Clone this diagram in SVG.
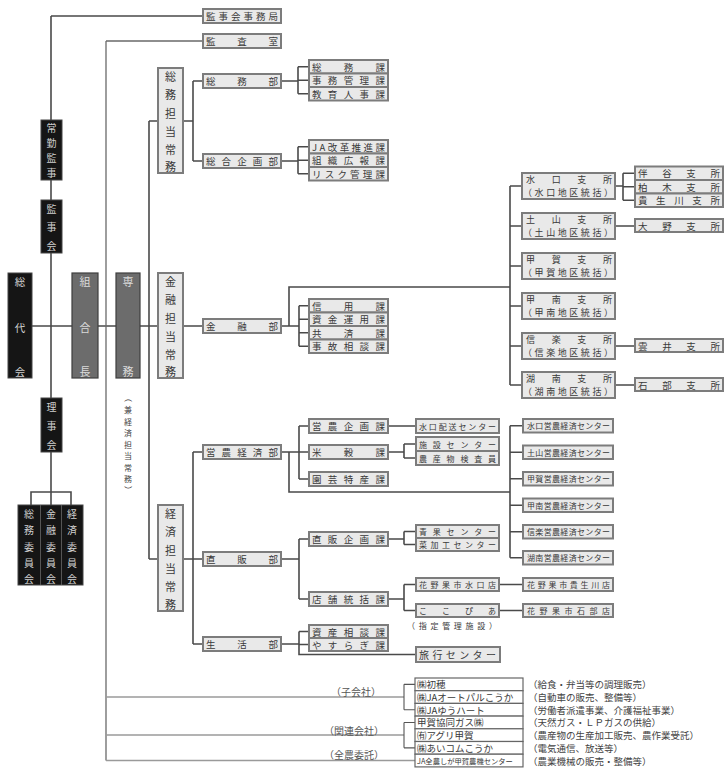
<svg xmlns="http://www.w3.org/2000/svg" width="726" height="769" viewBox="0 0 726 769">
<style>
text{font-family:"Noto Sans CJK JP","Noto Sans CJK SC",sans-serif;dominant-baseline:central;}
.b{fill:#e9e9e9;stroke:#7c7c7c;stroke-width:2;}
.k{fill:#151515;stroke:#444;stroke-width:1;}
.g{fill:#6c6c6c;stroke:#3e3e3e;stroke-width:1.2;}
.t{font-size:9.5px;fill:#3a3a3a;}
.t8{font-size:8px;fill:#3a3a3a;}
.t9{font-size:9px;fill:#3a3a3a;}
.t10{font-size:10px;fill:#3a3a3a;}
.v{font-size:11px;fill:#3a3a3a;text-anchor:middle;}
.vk{font-size:10.5px;fill:#cfcfcf;text-anchor:middle;}
.vs{font-size:10px;fill:#cfcfcf;text-anchor:middle;}
.vg{font-size:11px;fill:#dadada;text-anchor:middle;}
.vp{font-size:8px;fill:#444;text-anchor:middle;}
.lab{font-size:10px;fill:#555;text-anchor:end;}
.d{font-size:9.5px;fill:#444;}
.a{font-size:9.5px;fill:#3a3a3a;}
.ln{fill:none;stroke:#4a4a4a;stroke-width:1.6;}
.lm{fill:none;stroke:#6a6a6a;stroke-width:1.3;}
.ll{fill:none;stroke:#9a9a9a;stroke-width:1.3;}
.lb{fill:none;stroke:#555;stroke-width:1.1;}
.ar{fill:#fff;stroke:#666;stroke-width:1.2;}
</style>

<g id="connectors">
  <path class="ln" d="M51,16 H203 M51,16 V492 M31,505 V492 H71 V505 M51,492 V505"/>
  <path class="ln" d="M32,326 H72 M98,326 H116 M140,326 H158 M183,326 H203"/>
  <path class="lm" d="M106,41 H203 M106,41 V760.5"/>
  <path class="ln" d="M149,121 V559 M149,121 H158 M149,559 H158"/>
  <path class="ln" d="M183,121 H193 M193,81 V161 M193,81 H203 M193,161 H203"/>
  <path class="ln" d="M281,81 H298 M298,66.75 V93.75 M298,66.75 H309 M298,80.25 H309 M298,93.75 H309"/>
  <path class="ln" d="M281,161 H298 M298,146.75 V173.75 M298,146.75 H309 M298,160.25 H309 M298,173.75 H309"/>
  <path class="ln" d="M281,326 H299 M289,326 V287 H510 M299,305.75 V346.25 M299,305.75 H309 M299,319.25 H309 M299,332.75 H309 M299,346.25 H309"/>
  <path class="ln" d="M510,186 V385 M510,186 H522 M510,226 H522 M510,266 H522 M510,306 H522 M510,346 H522 M510,385 H522"/>
  <path class="ln" d="M615,186 H623 M623,173.25 V200.25 M623,173.25 H635 M623,186.75 H635 M623,200.25 H635"/>
  <path class="ln" d="M615,226 H635 M615,346 H635 M615,385 H635"/>
  <path class="ln" d="M183,559 H203 M193,452 V644 M193,452 H203 M193,644 H203"/>
  <path class="ln" d="M281,452 H299 M299,426 V479 M299,426 H309 M299,452 H309 M299,479 H309 M289,452 V492 H510"/>
  <path class="ln" d="M388,426 H416 M388,452 H404 M404,444 V458 M404,444 H416 M404,458 H416"/>
  <path class="ln" d="M510,425.75 V557.75 M510,425.75 H523 M510,452.25 H523 M510,478.75 H523 M510,505.25 H523 M510,531.75 H523 M510,557.75 H523"/>
  <path class="ln" d="M281,559 H299 M299,539 V599 M299,539 H309 M299,599 H309"/>
  <path class="ln" d="M388,539 H404 M404,531.5 V544.5 M404,531.5 H416 M404,544.5 H416"/>
  <path class="ln" d="M388,599 H404 M404,584.5 V610.5 M404,584.5 H416 M404,610.5 H416 M499,584.5 H523 M499,610.5 H523"/>
  <path class="ln" d="M281,644 H299 M299,631.5 V654.5 H416 M299,631.5 H309 M299,644.5 H309"/>
  <path class="ll" d="M106,697 H404 M106,735 H404 M106,760.5 H415"/>
  <path class="lb" d="M404,684.35 V709.75 M404,684.35 H415 M404,709.75 H415 M404,722.45 V747.85 M404,722.45 H415 M404,747.85 H415"/>
</g>

<g id="sodaikai"><rect class="k" x="8" y="273" width="24" height="105"/>
  <text class="vk" x="20" y="281">総</text><text class="vk" x="20" y="327">代</text><text class="vk" x="20" y="371">会</text></g>
<g id="jokin-kanji"><rect class="k" x="41" y="120" width="21" height="60"/>
  <text class="vs" x="51.5" y="127.5">常</text><text class="vs" x="51.5" y="142.5">勤</text><text class="vs" x="51.5" y="157.5">監</text><text class="vs" x="51.5" y="172.5">事</text></g>
<g id="kanjikai"><rect class="k" x="41" y="200" width="21" height="53"/>
  <text class="vs" x="51.5" y="208">監</text><text class="vs" x="51.5" y="226.5">事</text><text class="vs" x="51.5" y="245">会</text></g>
<g id="rijikai"><rect class="k" x="41" y="398" width="21" height="54"/>
  <text class="vs" x="51.5" y="406">理</text><text class="vs" x="51.5" y="425">事</text><text class="vs" x="51.5" y="444">会</text></g>
<g id="committees"><rect class="k" x="18" y="505" width="65" height="80"/>
  <path d="M40.5,505 V585 M61.5,505 V585" stroke="#555" stroke-width="1"/>
  <text class="vs" x="29" y="513">総</text><text class="vs" x="29" y="529.5">務</text><text class="vs" x="29" y="546">委</text><text class="vs" x="29" y="562.5">員</text><text class="vs" x="29" y="578">会</text>
  <text class="vs" x="51" y="513">金</text><text class="vs" x="51" y="529.5">融</text><text class="vs" x="51" y="546">委</text><text class="vs" x="51" y="562.5">員</text><text class="vs" x="51" y="578">会</text>
  <text class="vs" x="72" y="513">経</text><text class="vs" x="72" y="529.5">済</text><text class="vs" x="72" y="546">委</text><text class="vs" x="72" y="562.5">員</text><text class="vs" x="72" y="578">会</text></g>
<g id="kumiaicho"><rect class="g" x="72" y="273" width="26" height="105"/>
  <text class="vg" x="85" y="281">組</text><text class="vg" x="85" y="327">合</text><text class="vg" x="85" y="371">長</text></g>
<g id="senmu"><rect class="g" x="116" y="273" width="24" height="105"/>
  <text class="vg" x="128" y="281">専</text><text class="vg" x="128" y="371">務</text></g>
<g id="ken-keizai">
  <text class="vp" x="128" y="398" transform="rotate(90 128 398)">（</text>
  <text class="vp" x="128" y="409.5">兼</text><text class="vp" x="128" y="421">経</text><text class="vp" x="128" y="432.5">済</text><text class="vp" x="128" y="444">担</text><text class="vp" x="128" y="455.5">当</text><text class="vp" x="128" y="467">常</text><text class="vp" x="128" y="478.5">務</text>
  <text class="vp" x="128" y="490" transform="rotate(90 128 490)">）</text></g>

<g id="somu-jomu"><rect class="b" x="158" y="68" width="25" height="105"/>
  <text class="v" x="170.5" y="76">総</text><text class="v" x="170.5" y="94">務</text><text class="v" x="170.5" y="112.5">担</text><text class="v" x="170.5" y="131">当</text><text class="v" x="170.5" y="149">常</text><text class="v" x="170.5" y="166">務</text></g>
<g id="kinyu-jomu"><rect class="b" x="158" y="273" width="25" height="105"/>
  <text class="v" x="170.5" y="281">金</text><text class="v" x="170.5" y="299">融</text><text class="v" x="170.5" y="317.5">担</text><text class="v" x="170.5" y="336">当</text><text class="v" x="170.5" y="354">常</text><text class="v" x="170.5" y="371">務</text></g>
<g id="keizai-jomu"><rect class="b" x="158" y="505" width="25" height="106"/>
  <text class="v" x="170.5" y="513">経</text><text class="v" x="170.5" y="531">済</text><text class="v" x="170.5" y="549.5">担</text><text class="v" x="170.5" y="568">当</text><text class="v" x="170.5" y="586">常</text><text class="v" x="170.5" y="604">務</text></g>

<g id="kanjikai-jimukyoku"><rect class="b" x="203" y="9" width="78" height="14"/><text class="t" x="206" y="16" textLength="72" lengthAdjust="spacing">監事会事務局</text></g>
<g id="kansashitsu"><rect class="b" x="203" y="34" width="78" height="14"/><text class="t" x="206" y="41" textLength="72" lengthAdjust="spacing">監査室</text></g>
<g id="somubu"><rect class="b" x="203" y="74" width="78" height="14"/><text class="t" x="206" y="81" textLength="72" lengthAdjust="spacing">総務部</text></g>
<g id="sogokikakubu"><rect class="b" x="203" y="154" width="78" height="14"/><text class="t" x="206" y="161" textLength="72" lengthAdjust="spacing">総合企画部</text></g>
<g id="kinyubu"><rect class="b" x="203" y="319" width="78" height="14"/><text class="t" x="206" y="326" textLength="72" lengthAdjust="spacing">金融部</text></g>
<g id="einokeizaibu"><rect class="b" x="203" y="445" width="78" height="14"/><text class="t" x="206" y="452" textLength="72" lengthAdjust="spacing">営農経済部</text></g>
<g id="chokuhanbu"><rect class="b" x="203" y="552" width="78" height="14"/><text class="t" x="206" y="559" textLength="72" lengthAdjust="spacing">直販部</text></g>
<g id="seikatsubu"><rect class="b" x="203" y="637" width="78" height="14"/><text class="t" x="206" y="644" textLength="72" lengthAdjust="spacing">生活部</text></g>

<g id="somuka"><rect class="b" x="309" y="60" width="79" height="13.5"/><text class="t" x="312" y="66.75" textLength="73" lengthAdjust="spacing">総務課</text></g>
<g id="jimukanrika"><rect class="b" x="309" y="73.5" width="79" height="13.5"/><text class="t" x="312" y="80.25" textLength="73" lengthAdjust="spacing">事務管理課</text></g>
<g id="kyoikujinjika"><rect class="b" x="309" y="87" width="79" height="13.5"/><text class="t" x="312" y="93.75" textLength="73" lengthAdjust="spacing">教育人事課</text></g>
<g id="jakaikaku"><rect class="b" x="309" y="140" width="79" height="13.5"/><text class="t" x="312" y="146.75" textLength="73" lengthAdjust="spacing">JA改革推進課</text></g>
<g id="soshikikoho"><rect class="b" x="309" y="153.5" width="79" height="13.5"/><text class="t" x="312" y="160.25" textLength="73" lengthAdjust="spacing">組織広報課</text></g>
<g id="risk"><rect class="b" x="309" y="167" width="79" height="13.5"/><text class="t" x="312" y="173.75" textLength="73" lengthAdjust="spacing">リスク管理課</text></g>
<g id="shinyoka"><rect class="b" x="309" y="299" width="79" height="13.5"/><text class="t" x="312" y="305.75" textLength="73" lengthAdjust="spacing">信用課</text></g>
<g id="shikinunyoka"><rect class="b" x="309" y="312.5" width="79" height="13.5"/><text class="t" x="312" y="319.25" textLength="73" lengthAdjust="spacing">資金運用課</text></g>
<g id="kyosaika"><rect class="b" x="309" y="326" width="79" height="13.5"/><text class="t" x="312" y="332.75" textLength="73" lengthAdjust="spacing">共済課</text></g>
<g id="jikosodanka"><rect class="b" x="309" y="339.5" width="79" height="13.5"/><text class="t" x="312" y="346.25" textLength="73" lengthAdjust="spacing">事故相談課</text></g>
<g id="einokikakuka"><rect class="b" x="309" y="419" width="79" height="14"/><text class="t" x="312" y="426" textLength="73" lengthAdjust="spacing">営農企画課</text></g>
<g id="beikokuka"><rect class="b" x="309" y="445" width="79" height="14"/><text class="t" x="312" y="452" textLength="73" lengthAdjust="spacing">米穀課</text></g>
<g id="engeitokusanka"><rect class="b" x="309" y="472" width="79" height="14"/><text class="t" x="312" y="479" textLength="73" lengthAdjust="spacing">園芸特産課</text></g>
<g id="chokuhankikakuka"><rect class="b" x="309" y="532" width="79" height="14"/><text class="t" x="312" y="539" textLength="73" lengthAdjust="spacing">直販企画課</text></g>
<g id="tenpotokatsuka"><rect class="b" x="309" y="592" width="79" height="14"/><text class="t" x="312" y="599" textLength="73" lengthAdjust="spacing">店舗統括課</text></g>
<g id="shisansodanka"><rect class="b" x="309" y="625" width="79" height="13"/><text class="t" x="312" y="631.5" textLength="73" lengthAdjust="spacing">資産相談課</text></g>
<g id="yasuragika"><rect class="b" x="309" y="638" width="79" height="13"/><text class="t" x="312" y="644.5" textLength="73" lengthAdjust="spacing">やすらぎ課</text></g>

<g id="minakuchi-haiso"><rect class="b" x="416" y="419" width="83" height="14"/><text class="t8" x="419" y="426" textLength="77" lengthAdjust="spacing">水口配送センター</text></g>
<g id="shisetsu"><rect class="b" x="416" y="437" width="83" height="14"/><text class="t8" x="419" y="444" textLength="77" lengthAdjust="spacing">施設センター</text></g>
<g id="nosanbutsu"><rect class="b" x="416" y="451" width="83" height="14"/><text class="t8" x="419" y="458" textLength="77" lengthAdjust="spacing">農産物検査員</text></g>
<g id="seika"><rect class="b" x="416" y="525" width="83" height="13"/><text class="t8" x="419" y="531.5" textLength="77" lengthAdjust="spacing">青果センター</text></g>
<g id="saikako"><rect class="b" x="416" y="538" width="83" height="13"/><text class="t8" x="419" y="544.5" textLength="77" lengthAdjust="spacing">菜加工センター</text></g>
<g id="hanayaka-minakuchi"><rect class="b" x="416" y="578" width="83" height="13"/><text class="t8" x="419" y="584.5" textLength="77" lengthAdjust="spacing">花野果市水口店</text></g>
<g id="kokopia"><rect class="b" x="416" y="604" width="83" height="13"/><text class="t8" x="419" y="610.5" textLength="77" lengthAdjust="spacing">ここぴあ</text>
  <text class="t8" x="407" y="625.5" textLength="90" lengthAdjust="spacing" fill="#555">（指定管理施設）</text></g>
<g id="ryoko"><rect class="b" x="416" y="647" width="84" height="15"/><text class="t10" x="419" y="654.5" textLength="77" lengthAdjust="spacing">旅行センター</text></g>

<g id="minakuchi-shisho"><rect class="b" x="522" y="173" width="93" height="26"/><text class="t9" x="526" y="179.5" textLength="86" lengthAdjust="spacing">水口支所</text><text class="t9" x="523" y="192" textLength="90" lengthAdjust="spacing">（水口地区統括）</text></g>
<g id="tsuchiyama-shisho"><rect class="b" x="522" y="213" width="93" height="26"/><text class="t9" x="526" y="219.5" textLength="86" lengthAdjust="spacing">土山支所</text><text class="t9" x="523" y="232" textLength="90" lengthAdjust="spacing">（土山地区統括）</text></g>
<g id="koka-shisho"><rect class="b" x="522" y="253" width="93" height="26"/><text class="t9" x="526" y="259.5" textLength="86" lengthAdjust="spacing">甲賀支所</text><text class="t9" x="523" y="272" textLength="90" lengthAdjust="spacing">（甲賀地区統括）</text></g>
<g id="konan-shisho"><rect class="b" x="522" y="293" width="93" height="26"/><text class="t9" x="526" y="299.5" textLength="86" lengthAdjust="spacing">甲南支所</text><text class="t9" x="523" y="312" textLength="90" lengthAdjust="spacing">（甲南地区統括）</text></g>
<g id="shigaraki-shisho"><rect class="b" x="522" y="333" width="93" height="26"/><text class="t9" x="526" y="339.5" textLength="86" lengthAdjust="spacing">信楽支所</text><text class="t9" x="523" y="352" textLength="90" lengthAdjust="spacing">（信楽地区統括）</text></g>
<g id="konan2-shisho"><rect class="b" x="522" y="372" width="93" height="26"/><text class="t9" x="526" y="378.5" textLength="86" lengthAdjust="spacing">湖南支所</text><text class="t9" x="523" y="391" textLength="90" lengthAdjust="spacing">（湖南地区統括）</text></g>

<g id="banya"><rect class="b" x="635" y="166.5" width="88" height="13.5"/><text class="t" x="638" y="173.25" textLength="82" lengthAdjust="spacing">伴谷支所</text></g>
<g id="kashiwagi"><rect class="b" x="635" y="180" width="88" height="13.5"/><text class="t" x="638" y="186.75" textLength="82" lengthAdjust="spacing">柏木支所</text></g>
<g id="kibukawa"><rect class="b" x="635" y="193.5" width="88" height="13.5"/><text class="t" x="638" y="200.25" textLength="82" lengthAdjust="spacing">貴生川支所</text></g>
<g id="ono"><rect class="b" x="635" y="219" width="88" height="13"/><text class="t" x="638" y="225.5" textLength="82" lengthAdjust="spacing">大野支所</text></g>
<g id="kumoi"><rect class="b" x="635" y="339" width="88" height="13"/><text class="t" x="638" y="345.5" textLength="82" lengthAdjust="spacing">雲井支所</text></g>
<g id="ishibe"><rect class="b" x="635" y="378" width="88" height="13"/><text class="t" x="638" y="384.5" textLength="82" lengthAdjust="spacing">石部支所</text></g>

<g id="c-minakuchi"><rect class="b" x="523" y="419" width="90" height="13.5"/><text class="t8" x="527" y="425.75" textLength="83" lengthAdjust="spacing">水口営農経済センター</text></g>
<g id="c-tsuchiyama"><rect class="b" x="523" y="445.5" width="90" height="13.5"/><text class="t8" x="527" y="452.25" textLength="83" lengthAdjust="spacing">土山営農経済センター</text></g>
<g id="c-koka"><rect class="b" x="523" y="472" width="90" height="13.5"/><text class="t8" x="527" y="478.75" textLength="83" lengthAdjust="spacing">甲賀営農経済センター</text></g>
<g id="c-konan"><rect class="b" x="523" y="498.5" width="90" height="13.5"/><text class="t8" x="527" y="505.25" textLength="83" lengthAdjust="spacing">甲南営農経済センター</text></g>
<g id="c-shigaraki"><rect class="b" x="523" y="525" width="90" height="13.5"/><text class="t8" x="527" y="531.75" textLength="83" lengthAdjust="spacing">信楽営農経済センター</text></g>
<g id="c-konan2"><rect class="b" x="523" y="551" width="90" height="13.5"/><text class="t8" x="527" y="557.75" textLength="83" lengthAdjust="spacing">湖南営農経済センター</text></g>
<g id="hanayaka-kibukawa"><rect class="b" x="523" y="578" width="90" height="13"/><text class="t8" x="527" y="584.5" textLength="83" lengthAdjust="spacing">花野果市貴生川店</text></g>
<g id="hanayaka-ishibe"><rect class="b" x="523" y="604" width="90" height="13"/><text class="t8" x="527" y="610.5" textLength="83" lengthAdjust="spacing">花野果市石部店</text></g>

<g id="labels">
  <text class="lab" x="381" y="691">（子会社）</text>
  <text class="lab" x="384" y="730">（関連会社）</text>
  <text class="lab" x="384" y="754">（全農委託）</text>
</g>

<g id="affiliates">
  <rect class="ar" x="415" y="678" width="108" height="12.7"/>
  <rect class="ar" x="415" y="690.7" width="108" height="12.7"/>
  <rect class="ar" x="415" y="703.4" width="108" height="12.7"/>
  <rect class="ar" x="415" y="716.1" width="108" height="12.7"/>
  <rect class="ar" x="415" y="728.8" width="108" height="12.7"/>
  <rect class="ar" x="415" y="741.5" width="108" height="12.7"/>
  <rect class="ar" x="415" y="754.2" width="108" height="12.7"/>
  <text class="a" x="417" y="684.35">㈱初穂</text>
  <text class="a" x="417" y="697.05">㈱JAオートパルこうか</text>
  <text class="a" x="417" y="709.75">㈱JAゆうハート</text>
  <text class="a" x="417" y="722.45">甲賀協同ガス㈱</text>
  <text class="a" x="417" y="735.15">㈲アグリ甲賀</text>
  <text class="a" x="417" y="747.85">㈱あいコムこうか</text>
  <text class="a" x="417" y="760.55" style="font-size:7.3px">JA全農しが甲賀農機センター</text>
  <text class="d" x="528" y="684.35">（給食・弁当等の調理販売）</text>
  <text class="d" x="528" y="697.05">（自動車の販売、整備等）</text>
  <text class="d" x="528" y="709.75">（労働者派遣事業、介護福祉事業）</text>
  <text class="d" x="528" y="722.45">（天然ガス・ＬＰガスの供給）</text>
  <text class="d" x="528" y="735.15">（農産物の生産加工販売、農作業受託）</text>
  <text class="d" x="528" y="747.85">（電気通信、放送等）</text>
  <text class="d" x="528" y="760.55">（農業機械の販売・整備等）</text>
</g>
</svg>
